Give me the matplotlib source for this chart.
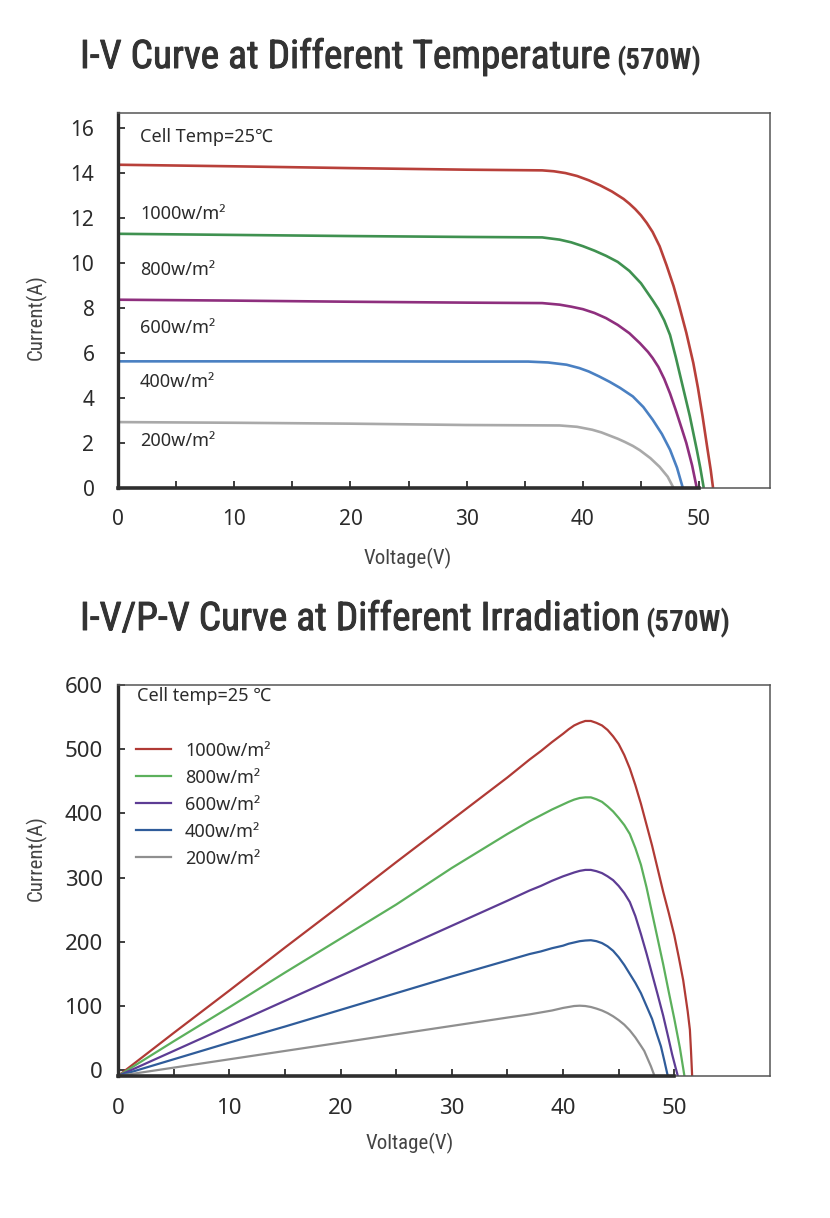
import matplotlib
matplotlib.use("Agg")
import matplotlib.pyplot as plt
import matplotlib.patheffects as pe
from matplotlib import font_manager
from matplotlib.ticker import MultipleLocator

# ── Data: I-V curves (top chart) ───────────────────────────────────────────
IV_LABELS = ["1000w/m²", "800w/m²", "600w/m²", "400w/m²", "200w/m²"]
IV_COLORS = ["#b8403a", "#3f9150", "#8e2f7e", "#4a80c2", "#a9a9a9"]

iv_v_1000 = [0, 10, 20, 30, 36.5, 37.5, 38.5, 39.5, 40.5, 41.5, 42.5, 43.5, 44, 44.5, 45, 45.5,
             46.0, 46.6, 47.2, 47.8, 48.3, 48.9, 49.5, 49.9, 50.3, 50.7, 51.0, 51.2]
iv_i_1000 = [14.37, 14.3, 14.22, 14.15, 14.12, 14.08, 14.0, 13.87, 13.68, 13.45, 13.18, 12.85,
             12.64, 12.4, 12.12, 11.78, 11.38, 10.75, 9.9, 8.98, 8.07, 6.9, 5.56, 4.45, 3.18,
             1.8, 0.8, 0]
iv_v_800 = [0, 10, 20, 30, 36.5, 38, 39, 40, 41, 42, 43, 44, 45, 46, 46.5, 47, 47.5, 48, 48.6,
            49.2, 49.8, 50.1, 50.4]
iv_i_800 = [11.3, 11.25, 11.2, 11.16, 11.14, 11.04, 10.92, 10.75, 10.55, 10.32, 10.05, 9.65,
            9.1, 8.35, 7.95, 7.45, 6.8, 5.8, 4.5, 3.2, 1.7, 0.9, 0]
iv_v_600 = [0, 10, 20, 30, 36.5, 38, 39, 40, 41, 42, 43, 44, 44.9, 45.6, 46.0, 46.5, 47, 47.5,
            48, 48.5, 48.9, 49.4, 49.8]
iv_i_600 = [8.37, 8.33, 8.28, 8.24, 8.22, 8.15, 8.06, 7.95, 7.78, 7.55, 7.25, 6.88, 6.44,
            6.05, 5.78, 5.38, 4.85, 4.2, 3.45, 2.65, 2.0, 1.0, 0]
iv_v_400 = [0, 10, 20, 30, 35.3, 37, 38.6, 39.7, 40.5, 41.4, 42.3, 43.2, 44.3, 45.2, 46.0,
            46.8, 47.5, 48.1, 48.6]
iv_i_400 = [5.63, 5.63, 5.63, 5.62, 5.62, 5.58, 5.48, 5.33, 5.18, 4.96, 4.72, 4.45, 4.07,
            3.6, 3.04, 2.4, 1.7, 0.9, 0]
iv_v_200 = [0, 10, 20, 30, 38, 39.5, 40.8, 41.6, 42.3, 43.0, 43.6, 44.3, 44.9, 45.8, 46.6,
            47.3, 47.8]
iv_i_200 = [2.93, 2.9, 2.86, 2.8, 2.78, 2.72, 2.59, 2.47, 2.33, 2.19, 2.05, 1.87, 1.68, 1.33,
            0.94, 0.5, 0]

# y positions (A) of the in-plot irradiance texts
IV_TEXT_Y = [12.2, 9.7, 7.1, 4.7, 2.1]

# ── Data: P-V curves (bottom chart) ────────────────────────────────────────
PV_LABELS = ["1000w/m²", "800w/m²", "600w/m²", "400w/m²", "200w/m²"]
PV_COLORS = ["#b03a35", "#5cb05c", "#5d3c94", "#2f5c9a", "#8f8f8f"]

pv_v_1000 = [0, 5, 10, 15, 20, 25, 30, 35, 37, 38, 39, 40, 40.5, 41, 41.5, 42, 42.5, 43, 43.5,
             44, 44.5, 45, 45.5, 46, 46.5, 47, 48, 49, 49.5, 50, 50.4, 50.8, 51.2, 51.4, 51.5,
             51.6]
pv_p_1000 = [-9, 58, 124, 191, 257, 324, 390, 456, 484, 497, 511, 524, 531, 537, 541, 544, 544,
             541, 537, 530, 520, 508, 491, 470, 444, 415, 350, 278, 245, 210, 176, 140, 92, 63,
             30, -8]
pv_v_800 = [0, 5, 10, 15, 20, 25, 30, 35, 37, 38, 39, 40, 40.5, 41, 41.5, 42, 42.5, 43, 43.5,
            44, 44.5, 45, 45.5, 46, 46.5, 47, 47.5, 48, 48.5, 49, 49.5, 50, 50.5, 50.9]
pv_p_800 = [-9, 45, 98, 152, 205, 258, 315, 368, 388, 397, 406, 414, 418, 421.5, 424, 425, 425,
            422, 418, 411, 403, 393, 382, 368, 346, 320, 285, 245, 205, 165, 122, 80, 35, -8]
pv_v_600 = [0, 5, 10, 15, 20, 25, 30, 35, 37, 38, 39, 40, 40.5, 41, 41.5, 42, 42.5, 43, 43.5,
            44, 44.5, 45, 45.5, 46, 46.5, 47, 47.5, 48, 48.5, 49, 49.5, 49.8, 50.1, 50.3]
pv_p_600 = [-9, 30, 69, 108, 147, 186, 225, 264, 280, 287, 295, 302, 305, 308, 310.5, 312, 312,
            310, 307, 302, 296, 287, 276, 262, 240, 212, 182, 150, 118, 85, 48, 25, 5, -8]
pv_v_400 = [0, 5, 10, 15, 20, 25, 30, 35, 37, 38, 39, 40, 40.5, 41, 41.5, 42, 42.5, 43, 43.5,
            44, 44.5, 45, 45.5, 46, 46.5, 47, 47.5, 48, 48.4, 48.8, 49.1, 49.4]
pv_p_400 = [-9, 17, 43, 68, 94, 120, 146, 171, 181, 185, 190, 194, 197, 199, 201, 202, 202.5,
            201, 198, 193, 186, 176, 164, 150, 136, 120, 100, 80, 58, 37, 15, -8]
pv_v_200 = [0, 5, 10, 15, 20, 25, 30, 35, 37, 38, 39, 40, 40.5, 41, 41.5, 42, 42.5, 43, 43.5,
            44, 44.5, 45, 45.5, 46, 46.5, 47, 47.3, 47.6, 47.9, 48.2]
pv_p_200 = [-9, 4, 17, 30, 43, 56, 69, 82, 87, 90, 93, 97, 98.5, 100, 100.5, 100, 98.5, 96, 93,
            89, 84, 78, 71, 62, 51, 38, 30, 18, 6, -8]

# ── Fonts ──────────────────────────────────────────────────────────────────
_names = {f.name for f in font_manager.fontManager.ttflist}
COND = next((n for n in ["Roboto Condensed", "Open Sans Condensed",
                         "Liberation Sans Narrow", "Noto Sans Condensed"]
             if n in _names), "Roboto")
BODY = ["Noto Sans", "DejaVu Sans"]
TXT = "#2b2b2b"
plt.rcParams["font.family"] = BODY


def frame(ax, xmax, ylo, yhi, xend=50):
    ax.set_xlim(0, xmax)
    ax.set_ylim(ylo, yhi)
    for s in ("top", "right"):
        ax.spines[s].set_color("#555555")
        ax.spines[s].set_linewidth(1.1)
    ax.spines["left"].set_color("#2e2e2e")
    ax.spines["left"].set_linewidth(2.4)
    ax.spines["bottom"].set_color("#2e2e2e")
    ax.spines["bottom"].set_linewidth(2.6)
    ax.spines["bottom"].set_bounds(0, xend)
    # thin rest of the bottom frame
    ax.axhline(ylo, xmin=xend / xmax, xmax=1, color="#555555", lw=1.1, clip_on=False)
    ax.tick_params(which="both", direction="in", length=5, width=1.3, color="#2e2e2e")
    ax.set_xticks(list(range(0, xend + 1, 10)))
    ax.set_xticks(list(range(5, xend, 10)), minor=True)


def title(fig, y, main, sub):
    col = "#333333"
    t = fig.text(80 / 830, y, main, fontsize=28.3, color=col,
                 family=[COND, "DejaVu Sans"], va="baseline",
                 path_effects=[pe.withStroke(linewidth=0.7, foreground=col)])
    fig.axes[0].annotate(sub, xy=(1, 0), xycoords=t, xytext=(5, 0),
                         textcoords="offset points", fontsize=21, fontweight="bold",
                         color=col, family=[COND, "DejaVu Sans"], va="bottom",
                         annotation_clip=False)


fig = plt.figure(figsize=(8.3, 12.18), dpi=100)
ax1 = fig.add_axes([118 / 830, 1 - 488 / 1218, 652 / 830, 375 / 1218])
ax2 = fig.add_axes([118 / 830, 1 - 1076 / 1218, 652 / 830, 391 / 1218])

# ── Top: I-V ───────────────────────────────────────────────────────────────
iv = [(iv_v_1000, iv_i_1000), (iv_v_800, iv_i_800), (iv_v_600, iv_i_600),
      (iv_v_400, iv_i_400), (iv_v_200, iv_i_200)]
for (v, i), c in zip(iv, IV_COLORS):
    ax1.plot(v, i, color=c, lw=1.9, solid_capstyle="butt", solid_joinstyle="round")
frame(ax1, 56.1, 0, 16.67)
ax1.yaxis.set_major_locator(MultipleLocator(2))
ax1.tick_params(axis="y", pad=17, labelsize=15, labelcolor=TXT)
ax1.tick_params(axis="x", pad=15, labelsize=15, labelcolor=TXT)
ax1.text(1.9, 15.6, "Cell Temp=25℃", fontsize=13, color=TXT, va="center")
for lab, y in zip(IV_LABELS, IV_TEXT_Y):
    ax1.text(1.9, y, lab, fontsize=13, color=TXT, va="center")
ax1.set_xlabel("Voltage(V)", fontsize=15, color="#444444", family=[COND, "DejaVu Sans"])
ax1.set_ylabel("Current(A)", fontsize=15, color="#444444", family=[COND, "DejaVu Sans"])
ax1.xaxis.set_label_coords(0.445, -0.16)
ax1.yaxis.set_label_coords(-0.109, 0.456)

# ── Bottom: P-V ────────────────────────────────────────────────────────────
pv = [(pv_v_1000, pv_p_1000), (pv_v_800, pv_p_800), (pv_v_600, pv_p_600),
      (pv_v_400, pv_p_400), (pv_v_200, pv_p_200)]
for (v, p), c, lab in zip(pv, PV_COLORS, PV_LABELS):
    ax2.plot(v, p, color=c, lw=1.6, label=lab, solid_joinstyle="round")
frame(ax2, 58.6, -9, 600)
ax2.yaxis.set_major_locator(MultipleLocator(100))
ax2.tick_params(axis="y", pad=11, labelsize=16, labelcolor=TXT)
ax2.tick_params(axis="x", pad=16, labelsize=16, labelcolor=TXT)
ax2.text(1.7, 583, "Cell temp=25 ℃", fontsize=13, color=TXT, va="center")
ax2.legend(loc="upper left", bbox_to_anchor=(0.028, 0.855), frameon=False,
           fontsize=13, handlelength=1.95, handletextpad=0.75, labelspacing=0.5,
           borderpad=0, borderaxespad=0, labelcolor=TXT)
ax2.set_xlabel("Voltage(V)", fontsize=15, color="#444444", family=[COND, "DejaVu Sans"])
ax2.set_ylabel("Current(A)", fontsize=15, color="#444444", family=[COND, "DejaVu Sans"])
ax2.xaxis.set_label_coords(0.447, -0.146)
ax2.yaxis.set_label_coords(-0.109, 0.558)

title(fig, 1 - 68 / 1218, "I-V Curve at Different Temperature", "(570W)")
title(fig, 1 - 630 / 1218, "I-V/P-V Curve at Different Irradiation", "(570W)")

fig.savefig("out.png", dpi=100)
